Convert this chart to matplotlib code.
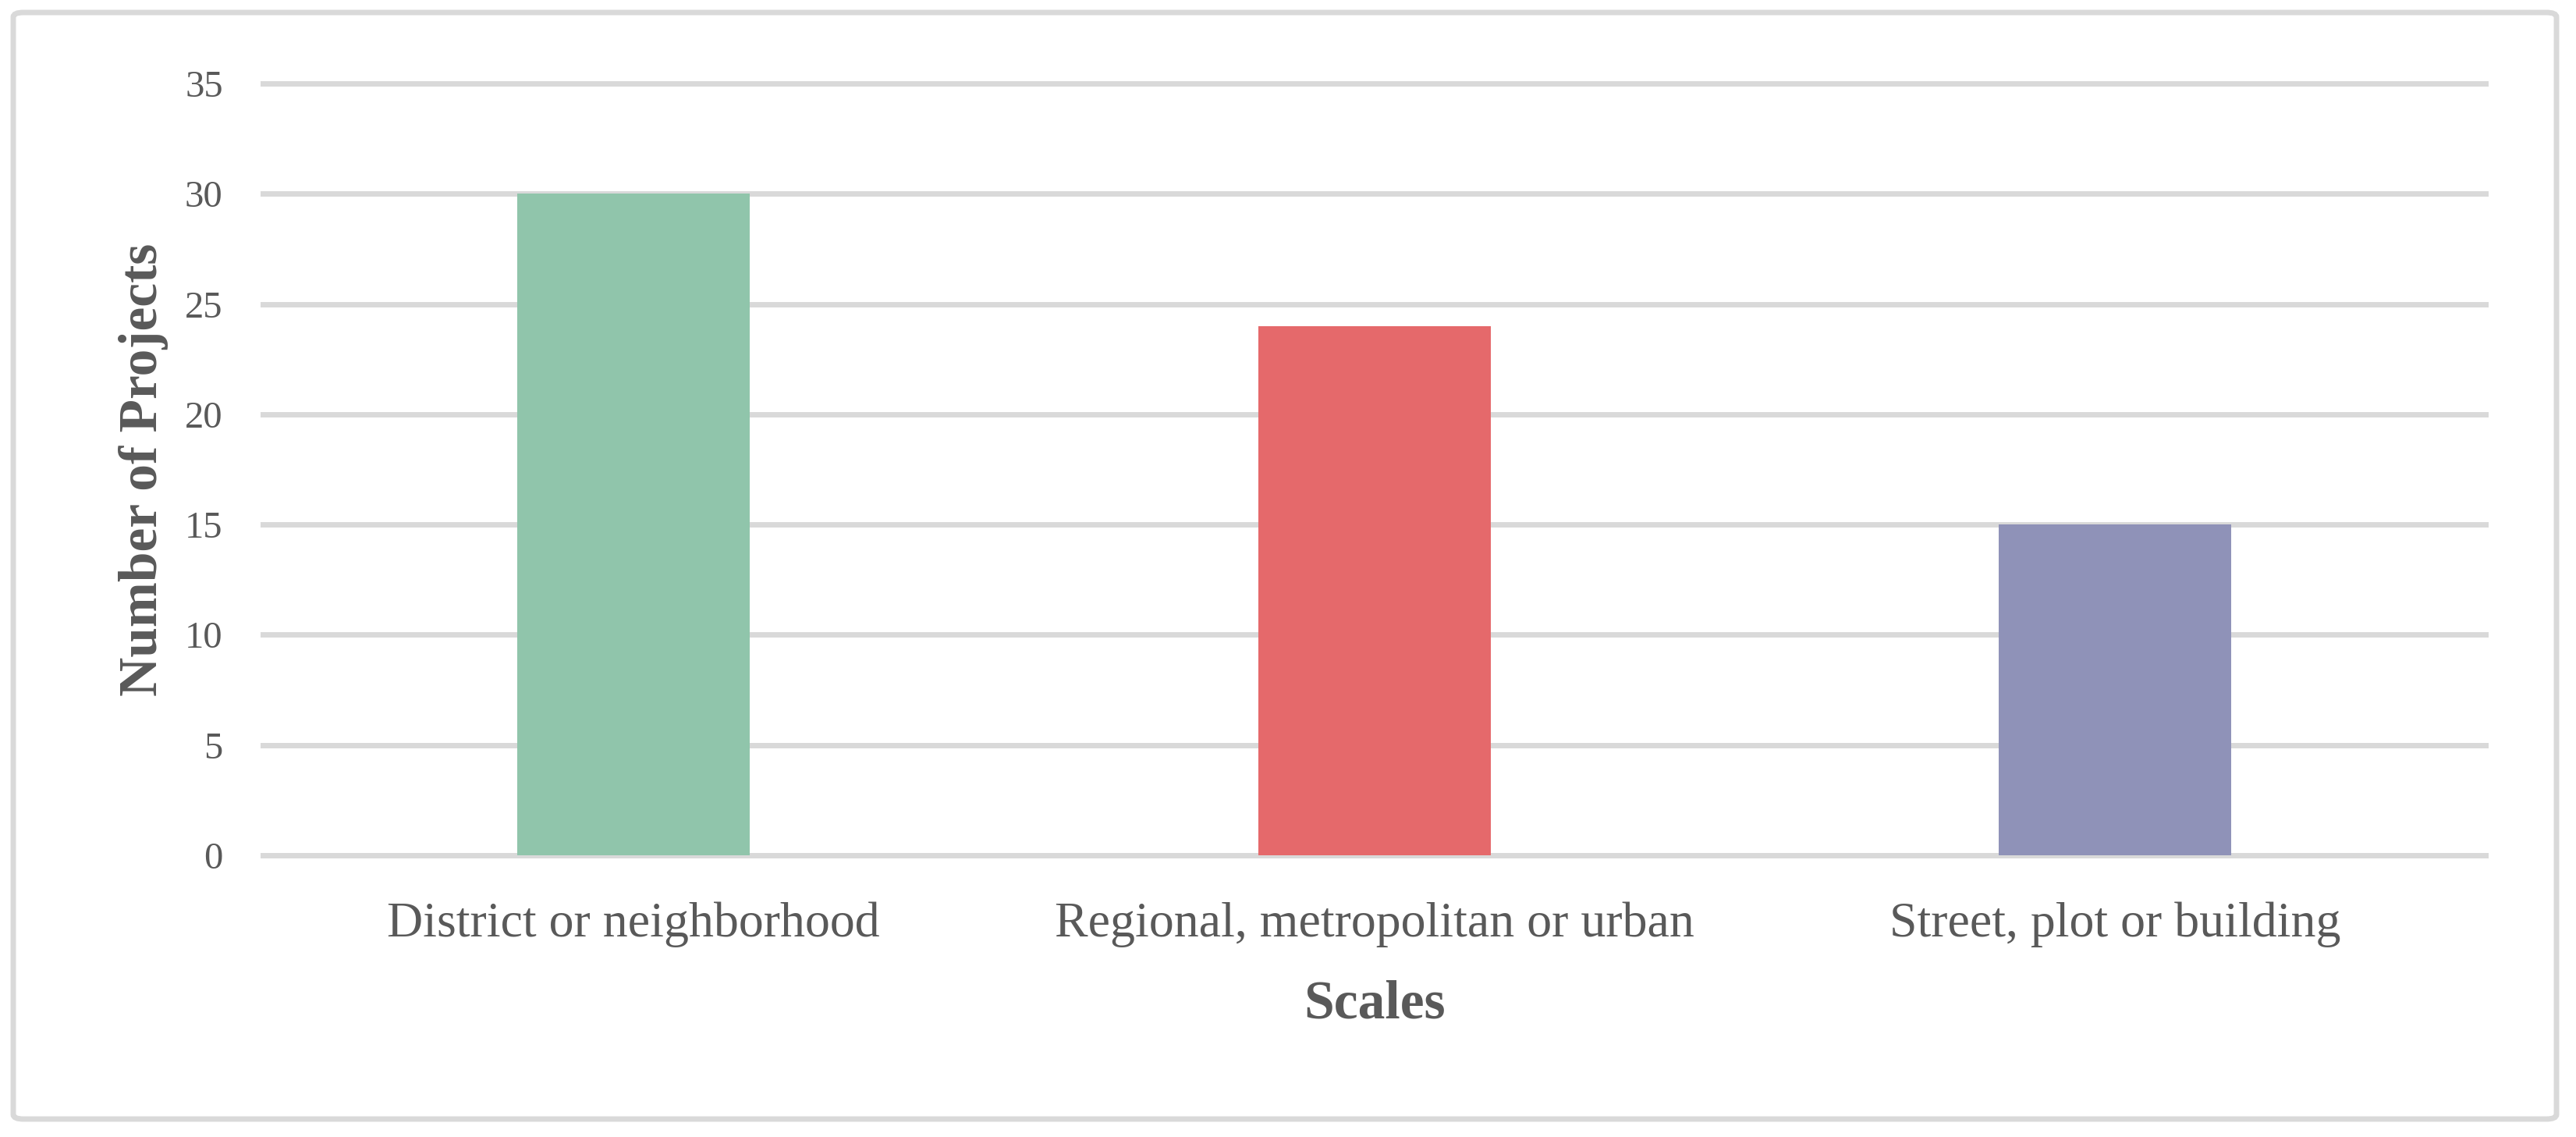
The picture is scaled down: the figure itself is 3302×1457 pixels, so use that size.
import matplotlib.pyplot as plt
from matplotlib.patches import FancyBboxPatch

# data
categories = ["District or neighborhood", "Regional, metropolitan or urban", "Street, plot or building"]
projects = [30, 24, 15]
bar_colors = ["#90C5AB", "#E5696B", "#8F92B8"]
y_ticks = [0, 5, 10, 15, 20, 25, 30, 35]

text_color = "#595959"
grid_color = "#D9D9D9"

plt.rcParams['font.family'] = ['Liberation Serif', 'DejaVu Serif']

fig = plt.figure(figsize=(33.02, 14.57), dpi=100)
ax = fig.add_axes([0.1021, 0.2478, 0.8628, 0.6788])

x = range(len(categories))
ax.bar(x, projects, width=0.314, color=bar_colors, zorder=3)

ax.set_xlim(-0.5, len(categories) - 0.5)
ax.set_ylim(0, 35)
ax.set_yticks(y_ticks)
ax.set_xticks(list(x))
ax.set_xticklabels(categories)

ax.yaxis.grid(True, color=grid_color, linewidth=5, zorder=0)
for line in ax.get_ygridlines():
    line.set_clip_on(False)
ax.set_axisbelow(True)

for s in ax.spines.values():
    s.set_visible(False)
ax.tick_params(axis='y', length=0, pad=37, labelsize=35, labelcolor=text_color)
ax.tick_params(axis='x', length=0, pad=43, labelsize=46, labelcolor=text_color)

ax.set_xlabel("Scales", fontsize=50, fontweight='bold', color=text_color, labelpad=30)
ax.set_ylabel("Number of Projects", fontsize=50, fontweight='bold', color=text_color, labelpad=15)

# chart area border
border = FancyBboxPatch((17 / 3302, 1 - 1434 / 1457), (3277 - 17) / 3302, (1434 - 16) / 1457,
                        boxstyle="round,pad=0,rounding_size=0.004",
                        transform=fig.transFigure, facecolor='none',
                        edgecolor=grid_color, linewidth=5)
fig.patches.append(border)

fig.savefig("out.png", dpi=100)
